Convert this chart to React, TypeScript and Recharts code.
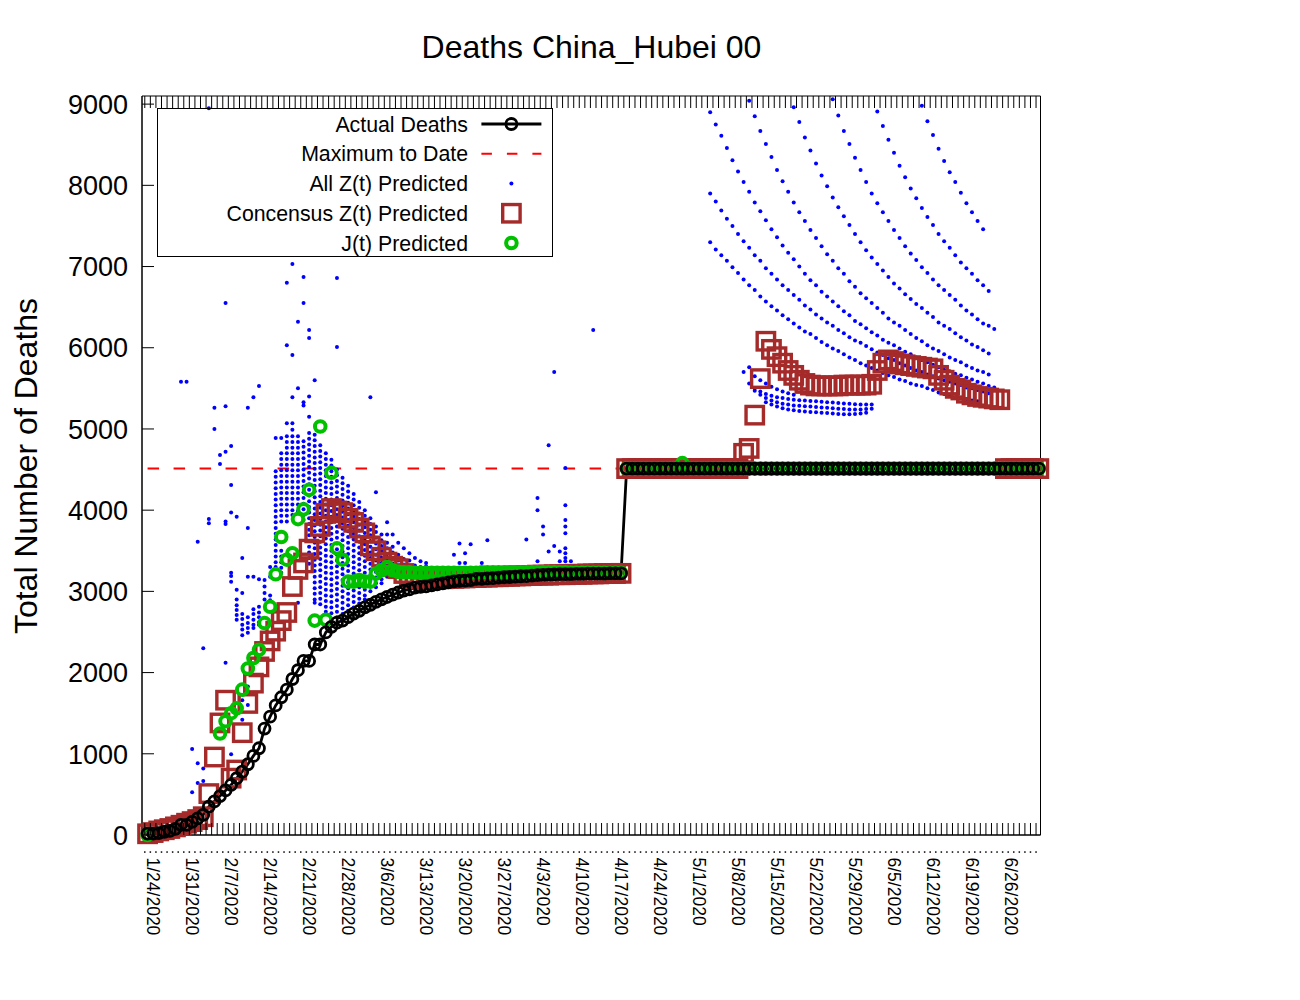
import React from "react";
import { ComposedChart, Line, Scatter, XAxis, YAxis, Legend, ReferenceArea } from "recharts";

const FONT = "'Liberation Sans', Arial, Helvetica, sans-serif";

// x values are day numbers, day 0 = 1/22/2020
const dateLabelDays = [2, 9, 16, 23, 30, 37, 44, 51, 58, 65, 72, 79, 86, 93, 100, 107, 114, 121, 128, 135, 142, 149, 156];
const dateLabels = ["1/24/2020", "1/31/2020", "2/7/2020", "2/14/2020", "2/21/2020", "2/28/2020", "3/6/2020", "3/13/2020",
    "3/20/2020", "3/27/2020", "4/3/2020", "4/10/2020", "4/17/2020", "4/24/2020", "5/1/2020", "5/8/2020", "5/15/2020",
    "5/22/2020", "5/29/2020", "6/5/2020", "6/12/2020", "6/19/2020", "6/26/2020"];
const countTicks = [0, 1000, 2000, 3000, 4000, 5000, 6000, 7000, 8000, 9000];

const legendNames = ["Actual Deaths", "Maximum to Date", "All Z(t) Predicted", "Concensus Z(t) Predicted", "J(t) Predicted"];

// one value per day, from 1/22/2020 to 6/30/2020
const actualDeaths = [
    17, 17, 24, 40, 52, 76, 125, 125, 162, 204,
    249, 350, 414, 479, 549, 618, 699, 780, 871, 974,
    1068, 1310, 1457, 1596, 1696, 1789, 1921, 2029, 2144, 2144,
    2346, 2346, 2495, 2563, 2615, 2641, 2682, 2727, 2761, 2803,
    2835, 2871, 2902, 2931, 2959, 2986, 3008, 3024, 3046, 3056,
    3062, 3075, 3085, 3099, 3111, 3122, 3130, 3132, 3139, 3153,
    3153, 3160, 3163, 3169, 3174, 3177, 3182, 3186, 3187, 3193,
    3199, 3203, 3207, 3210, 3212, 3212, 3213, 3215, 3216, 3219,
    3219, 3219, 3219, 3221, 3222, 3222, 4512, 4512, 4512, 4512,
    4512, 4512, 4512, 4512, 4512, 4512, 4512, 4512, 4512, 4512,
    4512, 4512, 4512, 4512, 4512, 4512, 4512, 4512, 4512, 4512,
    4512, 4512, 4512, 4512, 4512, 4512, 4512, 4512, 4512, 4512,
    4512, 4512, 4512, 4512, 4512, 4512, 4512, 4512, 4512, 4512,
    4512, 4512, 4512, 4512, 4512, 4512, 4512, 4512, 4512, 4512,
    4512, 4512, 4512, 4512, 4512, 4512, 4512, 4512, 4512, 4512,
    4512, 4512, 4512, 4512, 4512, 4512, 4512, 4512, 4512, 4512,
    4512,
];

const concensusZ = [
    15, 30, 50, 65, 80, 100, 120, 145, 165, 190, 225,
    510, 960, 1380, 1660, 700, 800, 1260, 1620, 1870, 2070, 2260,
    2390, 2510, 2640, 2740, 3060, 3270, 3350, 3520, 3720, 3800, 3960, 4020, 3990, 3970,
    3900, 3850, 3780, 3720, 3560, 3500, 3420, 3360, 3310, 3280, 3220, 3180, 3160, 3150,
    3150, 3150, 3155, 3155, 3160, 3160, 3165, 3165, 3170, 3170, 3175, 3175, 3180, 3180, 3185, 3185, 3190, 3190,
    3195, 3195, 3200, 3200, 3200, 3205, 3205, 3205, 3210, 3210, 3210, 3215, 3215, 3215, 3220, 3220, 3220, 3222,
    4512, 4512, 4512, 4512, 4512, 4512, 4512, 4512, 4512, 4512, 4512,
    4512, 4512, 4512, 4512, 4512, 4512, 4512, 4512, 4512, 4512,
    4700, 4760, 5170, 5620, 6080, 5980, 5890, 5810, 5720, 5660, 5600, 5560, 5540, 5530,
    5530, 5530, 5530, 5530, 5540, 5540, 5540, 5540, 5540, 5550,
    5720, 5810, 5850, 5830, 5800, 5790, 5780, 5770, 5760, 5750, 5740,
    5660, 5600, 5540, 5500, 5480, 5440, 5420, 5400, 5390, 5380, 5370, 5360,
    4512, 4512, 4512, 4512, 4512, 4512, 4512,
];

const jPredicted: (number | null)[] = [
    0,
    null, null, null, null, null, null, null, null, null, null, null, null,
    1250, 1400, 1500, 1560, 1790, 2050, 2180, 2280, 2610, 2810, 3210, 3670,
    3390, 3470, 3890, 4010, 4250, 2640, 5030, 2650, 4460, 3530, 3390,
    3120, 3120, 3140, 3120, 3120, 3220, 3260, 3300, 3260, 3240,
    3235, 3235, 3230, 3230, 3230, 3230, 3230, 3230, 3230, 3230,
    3230, 3230, 3230, 3230, 3235, 3235, 3235, 3235, 3235, 3235,
    3235, 3235, 3235, 3235, 3235, 3235, 3235, 3235, 3235, 3235,
    3230, 3230, 3230, 3230, 3230, 3230, 3228, 3228, 3228, 3228,
    4512, 4512, 4512, 4512, 4512, 4512, 4512, 4512, 4512, 4512,
    4580,
    4512, 4512, 4512, 4512, 4512, 4512, 4512, 4512, 4512, 4512,
    4512, 4512, 4512, 4512, 4512, 4512, 4512, 4512, 4512, 4512,
    4512, 4512, 4512, 4512, 4512, 4512, 4512, 4512, 4512, 4512,
    4512, 4512, 4512, 4512, 4512, 4512, 4512, 4512, 4512, 4512,
    4512, 4512, 4512, 4512, 4512, 4512, 4512, 4512, 4512, 4512,
    4512, 4512, 4512, 4512, 4512, 4512, 4512, 4512, 4512, 4512,
    4512, 4512, 4512, 4512,
];

// All Z(t) predictions, early weeks: [day, values...]
const zJanFeb: number[][] = [
    [6, 5580],
    [7, 5580],
    [8, 1060, 525],
    [9, 3610, 885, 640],
    [10, 2300, 820, 665],
    [11, 8950, 3890, 3840],
    [12, 5260, 5000],
    [13, 4680, 4570],
    [14, 6550, 5280, 4720, 3860, 3830, 2120],
    [15, 4790, 4310, 3970, 3230, 3190, 3120, 995],
    [16, 3920, 3020, 2900, 2830, 2770, 2710, 2650],
    [17, 3410, 2980, 2720, 2660, 2590, 2530, 2460, 1660, 1420],
    [18, 5260, 3780, 3180, 2680, 2610, 2550, 2490, 1830, 1600],
    [19, 5390, 3180, 2780, 2720, 2650, 2590, 2550],
    [20, 5530, 3150, 2810, 2740, 2680, 2620, 2590],
    [21, 3140, 3060, 2980, 2900],
    [22, 3300, 3180, 2950, 2890],
    [23, 4890, 4480, 4410, 4340, 4270, 4200, 4130, 4060, 3990, 3920, 3850, 3780, 3710, 3640, 3570, 3500, 3430, 3360, 3300],
    [24, 4890, 4700, 4630, 4560, 4490, 4420, 4350, 4280, 4210, 4140, 4070, 4000, 3930, 3860, 3500, 3430, 3360, 3290, 3230],
    [25, 6800, 6030, 5070, 4910, 4840, 4770, 4700, 4630, 4560, 4490, 4420, 4350, 4280, 4210, 4140, 4070, 4000, 3930, 3860],
    [26, 7030, 5910, 5390, 5070, 4990, 4910, 4840, 4770, 4700, 4630, 4560, 4490, 4420, 4350, 4280, 4210, 4140, 4070, 4000, 3940],
    [27, 6320, 5500, 4910, 4840, 4770, 4700, 4630, 4560, 4490, 4420, 4350, 4280, 4210, 4140, 4070, 3990, 2860],
    [28, 6870, 6550, 5330, 5290, 4850, 4780, 4710, 4640, 4570, 4500, 4430, 4360, 4290, 4220, 4150, 4080, 4010, 3940, 3880],
    [29, 6220, 6120, 5400, 5150, 4950, 4880, 4810, 4740, 4670, 4600, 4530, 4460, 4390, 4320, 4250, 4180, 4110, 4040, 3970,
        3900, 3830, 3760, 3690, 3620, 3550, 3480, 3410, 3340],
];

const zMar: number[][] = [
    [30, 5600, 4930, 4860, 4790, 4720, 4650, 4580, 4510, 4440, 4370, 4300, 4230, 4160, 4090, 4020, 3950, 3880, 3810, 3740,
        3670, 3600, 3530, 3460, 3390, 3320, 3250, 3180, 3110, 3040, 2970, 2900, 2860],
    [31, 4800, 4730, 4660, 4590, 4520, 4450, 4380, 4310, 4240, 4170, 4100, 4030, 3960, 3890, 3820, 3750, 3680, 3610, 3540,
        3470, 3400, 3330, 3260, 3190, 3120, 3050, 2980, 2910, 2840],
    [32, 4700, 4630, 4560, 4490, 4420, 4350, 4280, 4210, 4140, 4070, 4000, 3930, 3860, 3790, 3720, 3650, 3580, 3510, 3440,
        3370, 3300, 3230, 3160, 3090, 3020, 2950, 2880, 2810, 2750],
    [33, 4620, 4550, 4480, 4410, 4340, 4270, 4200, 4130, 4060, 3990, 3920, 3850, 3780, 3710, 3640, 3570, 3500, 3430, 3360,
        3290, 3220, 3150, 3080, 3010, 2940, 2870, 2800, 2730],
    [34, 6860, 6010, 4500, 4430, 4360, 4290, 4220, 4150, 4080, 4010, 3940, 3870, 3800, 3730, 3660, 3590, 3520, 3450, 3380,
        3310, 3240, 3170, 3100, 3030, 2960, 2890, 2820, 2750, 2680],
    [35, 4400, 4330, 4260, 4190, 4120, 4050, 3980, 3910, 3840, 3770, 3700, 3630, 3560, 3490, 3420, 3350, 3280, 3210, 3140,
        3070, 3000, 2930, 2860, 2790, 2720, 2650],
    [36, 4300, 4230, 4160, 4090, 4020, 3950, 3880, 3810, 3740, 3670, 3600, 3530, 3460, 3390, 3320, 3250, 3180, 3110, 3040,
        2970, 2900, 2830, 2760],
    [37, 4200, 4130, 4060, 3990, 3920, 3850, 3780, 3710, 3640, 3570, 3500, 3430, 3360, 3290, 3220, 3150, 3080, 3010, 2940,
        2870, 2800],
    [38, 4100, 4030, 3960, 3890, 3820, 3750, 3680, 3610, 3540, 3470, 3400, 3330, 3260, 3190, 3120, 3050, 2980, 2910, 2850],
    [39, 4000, 3930, 3860, 3790, 3720, 3650, 3580, 3510, 3440, 3370, 3300, 3230, 3160, 3090, 3020, 2950, 2900],
    [40, 5390, 3900, 3830, 3760, 3690, 3620, 3550, 3480, 3410, 3340, 3270, 3200, 3130, 3060, 3000],
    [41, 4220, 3800, 3730, 3660, 3590, 3520, 3450, 3380, 3310, 3240, 3170, 3100, 3050],
    [42, 3700, 3630, 3560, 3490, 3420, 3350, 3280, 3210, 3150, 3100],
    [43, 3850, 3700, 3600, 3530, 3460, 3390, 3320, 3250, 3180],
    [44, 3700, 3550, 3480, 3410, 3340, 3270, 3210],
    [45, 3600, 3450, 3380, 3310, 3250],
    [46, 3530, 3400, 3330, 3260],
    [47, 3470, 3380, 3300],
    [48, 3410, 3320, 3270],
    [49, 3370, 3300],
    [50, 3350, 3310, 3280],
];

const zApr: number[][] = [
    [55, 3450],
    [56, 3590, 3350],
    [57, 3470, 3350],
    [58, 3580],
    [60, 3350],
    [61, 3630],
    [68, 3640],
    [70, 4150, 4000, 3370],
    [71, 3800, 3700],
    [72, 4800, 3490],
    [73, 5700, 3560],
    [74, 3490, 3370],
    [75, 4520, 4060, 3880, 3800, 3715, 3530, 3470, 3410, 3370],
    [76, 3370],
    [80, 6220],
];

// later predictions: each run starts on a day and has one value per day
const zRunA = [8980, 8790, 8620, 8450, 8300, 8160, 8040, 7910, 7780, 7670, 7560, 7460];
const zRunB = [8910, 8730, 8560, 8400, 8240, 8100, 7960, 7840, 7720, 7610, 7510, 7400, 7310, 7230, 7140, 7050, 6980, 6910,
    6830, 6770, 6700];
const zRunC = [9060, 8860, 8670, 8510, 8340, 8190, 8040, 7900, 7780, 7670, 7560, 7450, 7350, 7250, 7160, 7080, 6990, 6920,
    6840, 6770, 6710, 6650, 6590, 6520, 6460, 6410, 6350, 6300, 6270, 6230];
const zRunD = [8960, 8780, 8590, 8430, 8270, 8120, 7990, 7850, 7730, 7620, 7510, 7400, 7300, 7200, 7110, 7030, 6950, 6870,
    6790, 6730, 6660, 6600, 6540, 6490, 6430, 6380, 6310, 6270, 6230, 6180, 6130, 6090, 6040, 6010, 5970, 5930];
const zRunE = [9040, 8850, 8670, 8510, 8350, 8190, 8050, 7920, 7790, 7670, 7560, 7450, 7350, 7250, 7150, 7070, 6980, 6910,
    6820, 6750, 6670, 6610, 6550, 6490, 6430, 6360, 6310, 6270, 6220, 6170, 6120, 6080, 6030, 5990, 5960, 5920, 5880, 5850,
    5820, 5780, 5750, 5720, 5700, 5670];
const zRunF = [8900, 8750, 8610, 8460, 8310, 8170, 8040, 7920, 7790, 7680, 7570, 7460, 7360, 7260, 7170, 7090, 7000, 6910,
    6830, 6770, 6690, 6630, 6570, 6510, 6450, 6400, 6330, 6290, 6240, 6190, 6150, 6100, 6060, 6030, 5990, 5950, 5920, 5880,
    5850, 5820, 5790, 5760, 5730, 5710, 5680, 5660, 5630, 5610, 5580, 5560, 5530, 5510];
const zRunG = [7900, 7800, 7690, 7590, 7500, 7400, 7310, 7230, 7140, 7070, 6980, 6910, 6840, 6770, 6710, 6650, 6590, 6520,
    6470, 6410, 6360, 6310, 6270, 6220, 6180, 6130, 6090, 6060, 6020, 5980, 5940, 5910, 5870, 5850, 5810, 5780, 5750, 5720,
    5700, 5670, 5650, 5620, 5600, 5580, 5560, 5540, 5510, 5500, 5480, 5460, 5440];
const zRunH = [7300, 7210, 7140, 7070, 6990, 6920, 6840, 6770, 6710, 6630, 6570, 6510, 6460, 6400, 6350, 6300, 6250, 6200,
    6170, 6120, 6070, 6030, 5990, 5960, 5920, 5880, 5850, 5810, 5780, 5750, 5720, 5690, 5660, 5640, 5610, 5590, 5560, 5540,
    5530, 5500, 5480, 5450, 5430, 5420, 5390, 5380, 5370, 5350, 5340];
const zRunI = [5700, 5760, 5650, 5600, 5560, 5520, 5490, 5460, 5440, 5420];
const zRunJ = [5560, 5500, 5460, 5430, 5410, 5390, 5380, 5370, 5360, 5355, 5350, 5345, 5340, 5335, 5330, 5325, 5320, 5315,
    5310, 5305, 5300, 5300, 5300];
const zRunK = [5470, 5420, 5380, 5350, 5330, 5310, 5300, 5290, 5285, 5280, 5275, 5270, 5265, 5260, 5255, 5250, 5245, 5240,
    5240, 5240, 5245, 5250];
const zRunL = [5330, 5300, 5275, 5255, 5240, 5230, 5220, 5215, 5210, 5205, 5200, 5195, 5190, 5185, 5180, 5180, 5185, 5190,
    5200];

const zRuns: [number, number[]][] = [
    [139, zRunA], [131, zRunB], [123, zRunC], [116, zRunD], [108, zRunE], [101, zRunF], [101, zRunG], [101, zRunH],
    [107, zRunI], [108, zRunJ], [109, zRunK], [111, zRunL],
];

const X_MIN = -1;
const X_MAX = 160.3;
const PLOT_H = 739;

const byDay = (vals: (number | null)[]) =>
    vals.map((v, i) => ({ day: i, v })).filter(p => p.v !== null);

const actualPts = byDay(actualDeaths);
const maxDeaths = Math.max(...actualDeaths);
const maxPts = actualDeaths.map((_, i) => ({ day: i, v: maxDeaths }));
const concensusPts = byDay(concensusZ);
const jPts = byDay(jPredicted);
const allZPts = [
    ...[...zJanFeb, ...zMar, ...zApr].flatMap(([d, ...vals]) => vals.map(v => ({ day: d, v }))),
    ...zRuns.flatMap(([start, vals]) => vals.map((v, i) => ({ day: start + i, v }))),
];

// minor ticks fall half a day before each data day
const dayTicks: number[] = [];
for (let d = 0; d <= 160; d++) dayTicks.push(d - 0.5);

const DayTick = (props: any) => {
    const { x, y, payload } = props;
    const idx = dateLabelDays.indexOf(Math.round(payload.value + 0.5));
    const bx = x - 8.5;
    const by = y + 22.5;
    return (
        <g>
            <line x1={x} x2={x} y1={y} y2={y - 12} stroke="#000" />
            <line x1={x} x2={x} y1={y - PLOT_H} y2={y - PLOT_H + 12} stroke="#000" />
            <rect x={x - 0.75} y={y + 16.3} width={1.5} height={1.5} fill="#000" />
            {idx >= 0 && (
                <text x={bx} y={by} transform={`rotate(90, ${bx}, ${by})`} textAnchor="start"
                    fontFamily={FONT} fontSize={17.5} fill="#000">{dateLabels[idx]}</text>
            )}
        </g>
    );
};

const CountTick = (props: any) => {
    const { x, y, payload } = props;
    return (
        <g>
            <line x1={x} x2={x + 12} y1={y} y2={y} stroke="#000" />
            <text x={x - 14} y={y} dy="0.36em" textAnchor="end" fontFamily={FONT} fontSize={27} fill="#000">
                {payload.value}
            </text>
        </g>
    );
};

const ChartTitle = () => (
    <text x={583.5} y={49.5} textAnchor="middle" fontFamily={FONT} fontSize={32} fill="#000">Deaths China_Hubei 00</text>
);

const YTitle = () => (
    <text x={29} y={458} transform="rotate(-90, 29, 458)" textAnchor="middle" fontFamily={FONT} fontSize={32} fill="#000">
        Total Number of Deaths
    </text>
);

const BlueDot = (p: any) => <circle cx={p.cx} cy={p.cy} r={2} fill="#0000ff" />;
const BrownSquare = (p: any) => (
    <rect x={p.cx - 8.7} y={p.cy - 8.7} width={17.4} height={17.4} fill="none" stroke="#a52a2a" strokeWidth={3.4} />
);
const GreenRing = (p: any) => <circle cx={p.cx} cy={p.cy} r={5.3} fill="none" stroke="#00c000" strokeWidth={4} />;

const LegendBox = () => {
    const rowY = (i: number) => 16 + i * 29.75;
    const sx = 354.4;
    return (
        <svg width={397} height={150} style={{ display: "block", overflow: "visible" }}>
            <rect x={0.5} y={0.5} width={395} height={148} fill="none" stroke="#000" />
            {legendNames.map((name, i) => (
                <text key={name} x={311} y={rowY(i)} dy="0.36em" textAnchor="end" fontFamily={FONT} fontSize={21.3} fill="#000">
                    {name}
                </text>
            ))}
            <line x1={sx - 30} x2={sx + 30} y1={rowY(0)} y2={rowY(0)} stroke="#000" strokeWidth={2.8} />
            <circle cx={sx} cy={rowY(0)} r={5.5} fill="none" stroke="#000" strokeWidth={2.8} />
            <line x1={sx - 30} x2={sx + 30} y1={rowY(1)} y2={rowY(1)} stroke="#ff0000" strokeWidth={2} strokeDasharray="10.5 15" />
            <circle cx={sx} cy={rowY(2)} r={2} fill="#0000ff" />
            <rect x={sx - 8.7} y={rowY(3) - 8.7} width={17.4} height={17.4} fill="none" stroke="#a52a2a" strokeWidth={3.4} />
            <circle cx={sx} cy={rowY(4)} r={5.3} fill="none" stroke="#00c000" strokeWidth={4} />
        </svg>
    );
};

const App: React.FC = () => {
    return (
        <ComposedChart width={1292} height={992} margin={{ top: 88, right: 259.5, bottom: 65, left: 34 }}>
            <XAxis type="number" dataKey="day" domain={[X_MIN, X_MAX]} ticks={dayTicks} interval={0}
                tick={DayTick} tickLine={false} tickSize={0} tickMargin={0} height={100}
                axisLine={{ stroke: "#000" }} label={ChartTitle} allowDecimals />
            <YAxis type="number" domain={[0, 9100]} ticks={countTicks} interval={0} tick={CountTick}
                tickLine={false} tickSize={0} tickMargin={0} width={100} axisLine={{ stroke: "#000" }} label={YTitle} />
            <ReferenceArea x1={X_MIN} x2={X_MAX} y1={0} y2={9100} fill="none" stroke="#000" strokeWidth={1} />
            <Line data={maxPts} dataKey="v" stroke="#ff0000" strokeWidth={2} strokeDasharray="11.5 14.5"
                dot={false} isAnimationActive={false} />
            <Line data={actualPts} dataKey="v" stroke="#000" strokeWidth={2.8}
                dot={{ r: 5.5, stroke: "#000", strokeWidth: 2.8, fill: "none" }} isAnimationActive={false} />
            <Scatter data={allZPts} dataKey="v" shape={BlueDot} isAnimationActive={false} />
            <Scatter data={concensusPts} dataKey="v" shape={BrownSquare} isAnimationActive={false} />
            <Scatter data={jPts} dataKey="v" shape={GreenRing} isAnimationActive={false} />
            <Legend content={LegendBox} layout="vertical" align="center" verticalAlign="middle"
                wrapperStyle={{ left: 149.3, top: 100.3, width: 397, height: 150 }} />
        </ComposedChart>
    );
};

export default App;
